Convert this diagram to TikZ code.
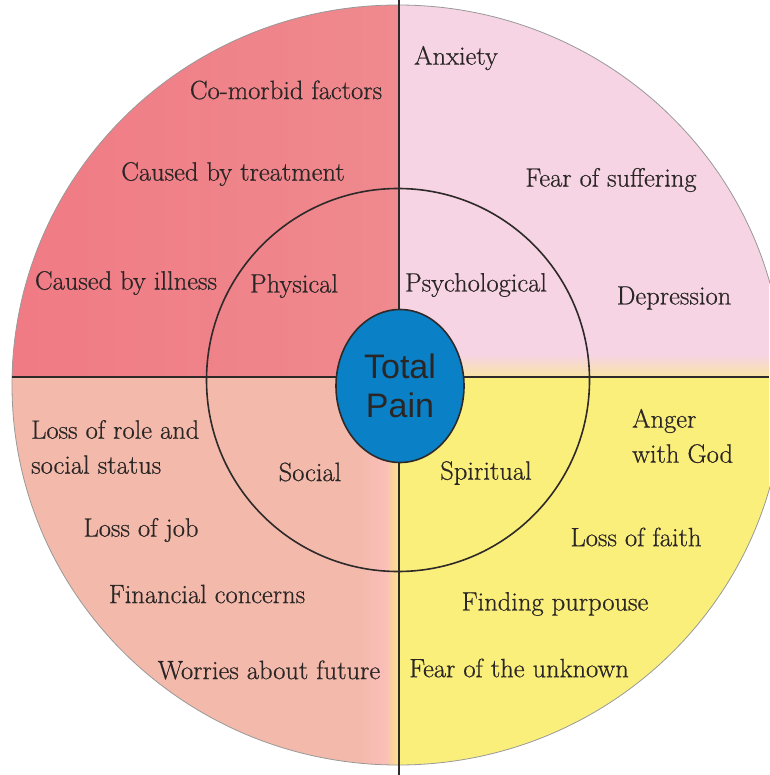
\documentclass[tikz,border=0pt]{standalone}
\usepackage{fontspec}
\usetikzlibrary{shapes.geometric}
\setmainfont{Latin Modern Roman}[FakeBold=0.6]
\newfontfamily\painsans{Liberation Sans}
\definecolor{physc}{HTML}{EF8A8E}
\definecolor{physl}{HTML}{F07A84}
\definecolor{psyc}{HTML}{F7D4E3}
\definecolor{socc}{HTML}{F3BAAB}
\definecolor{spic}{HTML}{FBEF7B}
\definecolor{bluec}{HTML}{0A80C6}
\definecolor{linec}{HTML}{2E2A2A}
\definecolor{textc}{HTML}{2B2626}
\tikzset{
  lbl/.style={font=\fontsize{26.5}{35}\selectfont, text=textc, inner sep=0pt},
  lblL/.style={lbl, anchor=west, align=left},
  divider/.style={draw=linec, line width=1.8pt},
  ring/.style={draw=linec, line width=1.6pt},
}
\begin{document}
\begin{tikzpicture}[x=1pt,y=-1pt]
\useasboundingbox (0,0) rectangle (769,775);
\fill[white] (0,0) rectangle (769,775);
\begin{scope}
  \clip (398,385) ellipse [x radius=386, y radius=380];
  \shade[left color=physl, right color=physc] (0,0) rectangle (399,377);
  \fill[psyc] (399,0) rectangle (769,377);
  \fill[socc] (0,377) rectangle (399,775);
  \fill[spic] (399,377) rectangle (769,775);
  \shade[left color=socc, right color=pink!70!socc] (360,377) rectangle (385,775);
  \shade[left color=pink!70!socc, right color=spic!80!socc] (385,377) rectangle (399,775);
  \shade[top color=psyc, bottom color=spic!60!psyc] (399,355) rectangle (769,377);
\end{scope}
\draw[draw=gray!80, line width=0.8pt] (398,385) ellipse [x radius=386, y radius=380];
\coordinate (hl) at (12,377);
\coordinate (hr) at (769,377);
\coordinate (vt) at (399,0);
\coordinate (vb) at (399,775);
\draw[divider] (hl) -- (hr);
\draw[divider] (vt) -- (vb);
\node[ring, circle, minimum size=383pt, inner sep=0pt] (inner) at (398,380) {};
\node[draw=linec, line width=1.6pt, fill=bluec, ellipse, minimum width=128pt, minimum height=153pt, inner sep=0pt, align=center, font=\painsans\fontsize{34}{39}\selectfont, text=textc] (total) at (400,386) {Total\\Pain};
% Physical
\node[lbl] (phys) at (294,286) {Physical};
\node[lbl] (comorb) at (286,90) {Co-morbid factors};
\node[lbl] (treat) at (233,174) {Caused by treatment};
\node[lbl] (ill) at (126,283) {Caused by illness};
% Psychological
\node[lbl] (psy) at (476,285) {Psychological};
\node[lblL] (anx) at (414,58) {Anxiety};
\node[lbl] (fear) at (611,180) {Fear of suffering};
\node[lbl] (dep) at (674,298) {Depression};
% Social
\node[lbl] (soc) at (310,472) {Social};
\node[lblL] (role) at (31,447) {Loss of role and\\social status};
\node[lbl] (job) at (141,530) {Loss of job};
\node[lbl] (fin) at (207,594) {Financial concerns};
\node[lbl] (wor) at (269,670) {Worries about future};
% Spiritual
\node[lbl] (spi) at (486,473) {Spiritual};
\node[lblL] (ang) at (632,436) {Anger\\with God};
\node[lbl] (faith) at (636,537) {Loss of faith};
\node[lbl] (purp) at (555,604) {Finding purpouse};
\node[lbl] (unk) at (519,668) {Fear of the unknown};
\end{tikzpicture}
\end{document}
